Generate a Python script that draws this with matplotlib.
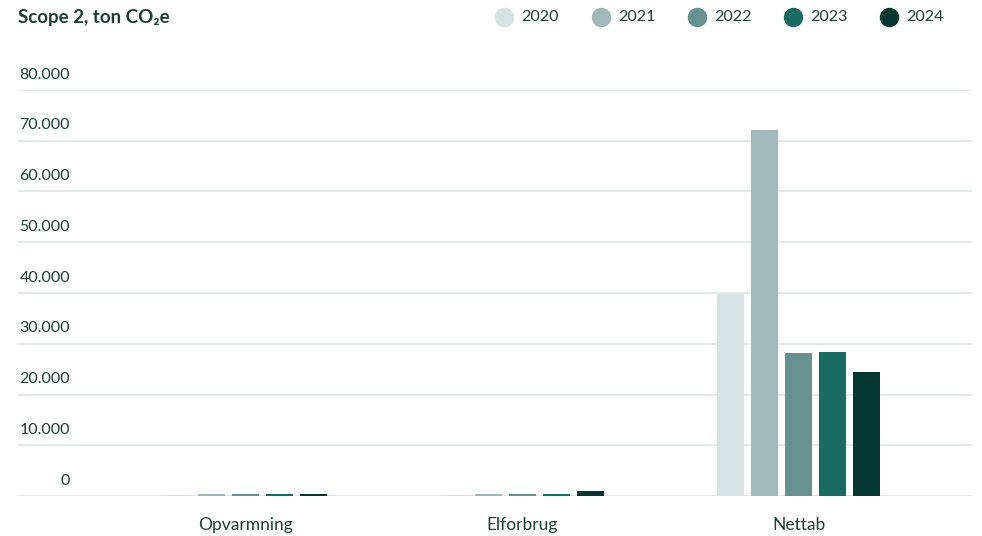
import matplotlib.pyplot as plt
from matplotlib.lines import Line2D
import numpy as np

categories = ['Opvarmning', 'Elforbrug', 'Nettab']
years = ['2020', '2021', '2022', '2023', '2024']
colors = ['#d5e2e1', '#a0b9b8', '#66918f', '#1b6a64', '#03372f']

# ton CO2e per year, per category
v2020 = [250, 100, 39800]
v2021 = [450, 450, 72100]
v2022 = [450, 450, 28200]
v2023 = [350, 350, 28400]
v2024 = [350, 1050, 24400]
values = [v2020, v2021, v2022, v2023, v2024]

yticks = [0, 10000, 20000, 30000, 40000, 50000, 60000, 70000, 80000]
ytick_labels = ['0', '10.000', '20.000', '30.000', '40.000', '50.000', '60.000', '70.000', '80.000']

txt = '#1f3d36'
grid_col = '#e3e9e7'
plt.rcParams['font.family'] = ['Lato', 'DejaVu Sans']

W, H = 982, 536
fig = plt.figure(figsize=(W / 100, H / 100), dpi=100)
ax = fig.add_axes([18 / W, (H - 496) / H, (972 - 18) / W, (496 - 90) / H])

x = np.arange(len(categories))
width = 27 / 276.5
step = 34 / 276.5
for i, (yr, vals) in enumerate(zip(years, values)):
    ax.bar(x + (i - 2) * step, vals, width, color=colors[i], zorder=3)

ax.set_xlim(-(245.5 - 18) / 276.5, 2 + (972 - 798.5) / 276.5)
ax.set_ylim(0, 80000)

for yt, lab in zip(yticks, ytick_labels):
    ax.axhline(yt, color=grid_col, lw=1.5, zorder=1)
    ax.annotate(lab, xy=(0, yt), xycoords=('axes fraction', 'data'),
                xytext=(52 / 100 * 72, 6), textcoords='offset points',
                ha='right', va='bottom', fontsize=11.5, color=txt)

for s in ax.spines.values():
    s.set_visible(False)
ax.set_yticks([])
ax.set_xticks(x)
ax.set_xticklabels(categories, fontsize=12.5, color=txt)
ax.tick_params(axis='x', length=0, pad=15)

fig.text(18 / W, 1 - 17 / H, 'Scope 2, ton CO₂e', fontsize=13.5, fontweight='bold',
         color=txt, ha='left', va='center')

# legend
leg_x = [504, 601, 697, 793, 889]
for lx, yr, c in zip(leg_x, years, colors):
    fig.add_artist(Line2D([lx / W], [1 - 17 / H], marker='o', markersize=13,
                          color=c, transform=fig.transFigure, linestyle=''))
    fig.text((lx + 17) / W, 1 - 17 / H, yr, fontsize=11.5, color=txt,
             ha='left', va='center')

fig.savefig('out.png', dpi=100)
